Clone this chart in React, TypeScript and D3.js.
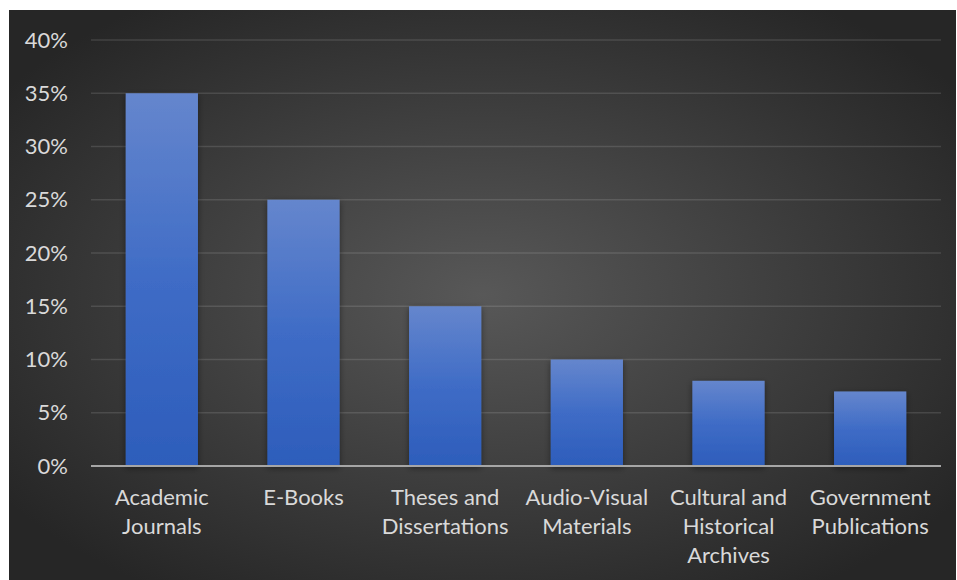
import React from "react";
import * as d3 from "d3";

// Share of library resources by type
const categories = [
  "Academic Journals",
  "E-Books",
  "Theses and Dissertations",
  "Audio-Visual Materials",
  "Cultural and Historical Archives",
  "Government Publications",
];
const categoryLines = [
  ["Academic", "Journals"],
  ["E-Books"],
  ["Theses and", "Dissertations"],
  ["Audio-Visual", "Materials"],
  ["Cultural and", "Historical", "Archives"],
  ["Government", "Publications"],
];
const shares = [0.35, 0.25, 0.15, 0.1, 0.08, 0.07];
const yTicks = [0, 0.05, 0.1, 0.15, 0.2, 0.25, 0.3, 0.35, 0.4];

const W = 957;
const H = 580;
const panel = { x: 9, y: 10, w: 947, h: 570 };
const plot = { left: 91, right: 941, top: 40, bottom: 466 };
const FONT = "Lato, 'Open Sans', sans-serif";
const TEXT = "#d9d9d9";

export default function App() {
  const x = d3
    .scaleBand<string>()
    .domain(categories)
    .range([plot.left, plot.right])
    .paddingInner(0.49)
    .paddingOuter(0.245);
  const y = d3.scaleLinear().domain([0, 0.4]).range([plot.bottom, plot.top]);
  const fmt = d3.format(".0%");

  return (
    <div style={{ position: "absolute", left: 0, top: 0 }}>
      <svg width={W} height={H} style={{ display: "block" }}>
        <defs>
          <radialGradient id="bg" cx="0.5" cy="0.5" r="0.62">
            <stop offset="0" stopColor="#585858" />
            <stop offset="1" stopColor="#262626" />
          </radialGradient>
          <linearGradient id="bar" x1="0" y1="0" x2="0" y2="1">
            <stop offset="0" stopColor="#6586cd" />
            <stop offset="0.5" stopColor="#3f6cc6" />
            <stop offset="1" stopColor="#2d5dbb" />
          </linearGradient>
          <filter id="shadow" x="-20%" y="-20%" width="140%" height="140%">
            <feDropShadow dx="0" dy="2" stdDeviation="3" floodColor="#000" floodOpacity="0.45" />
          </filter>
        </defs>
        <rect width={W} height={H} fill="#ffffff" />
        <rect x={panel.x} y={panel.y} width={panel.w} height={panel.h} fill="url(#bg)" />

        {/* horizontal gridlines */}
        {yTicks.slice(1).map((t) => (
          <line
            key={t}
            x1={plot.left}
            x2={plot.right}
            y1={y(t)}
            y2={y(t)}
            stroke="#ffffff"
            strokeOpacity={0.12}
            strokeWidth={1.5}
          />
        ))}

        {/* y tick labels */}
        {yTicks.map((t) => (
          <text
            key={t}
            x={68}
            y={y(t)}
            dy="0.35em"
            textAnchor="end"
            fontFamily={FONT}
            fontSize={22}
            fill={TEXT}
          >
            {fmt(t)}
          </text>
        ))}

        {/* bars */}
        {categories.map((c, i) => (
          <rect
            key={c}
            x={x(c)}
            y={y(shares[i])}
            width={x.bandwidth()}
            height={y(0) - y(shares[i])}
            fill="url(#bar)"
            filter="url(#shadow)"
          />
        ))}

        {/* category axis */}
        <line
          x1={plot.left}
          x2={plot.right}
          y1={plot.bottom}
          y2={plot.bottom}
          stroke="#a6a6a6"
          strokeWidth={2}
        />

        {categories.map((c, i) => (
          <text
            key={c}
            x={(x(c) as number) + x.bandwidth() / 2}
            textAnchor="middle"
            fontFamily={FONT}
            fontSize={22}
            fill={TEXT}
          >
            {categoryLines[i].map((line, j) => (
              <tspan key={j} x={(x(c) as number) + x.bandwidth() / 2} y={505 + j * 29}>
                {line}
              </tspan>
            ))}
          </text>
        ))}
      </svg>
    </div>
  );
}
